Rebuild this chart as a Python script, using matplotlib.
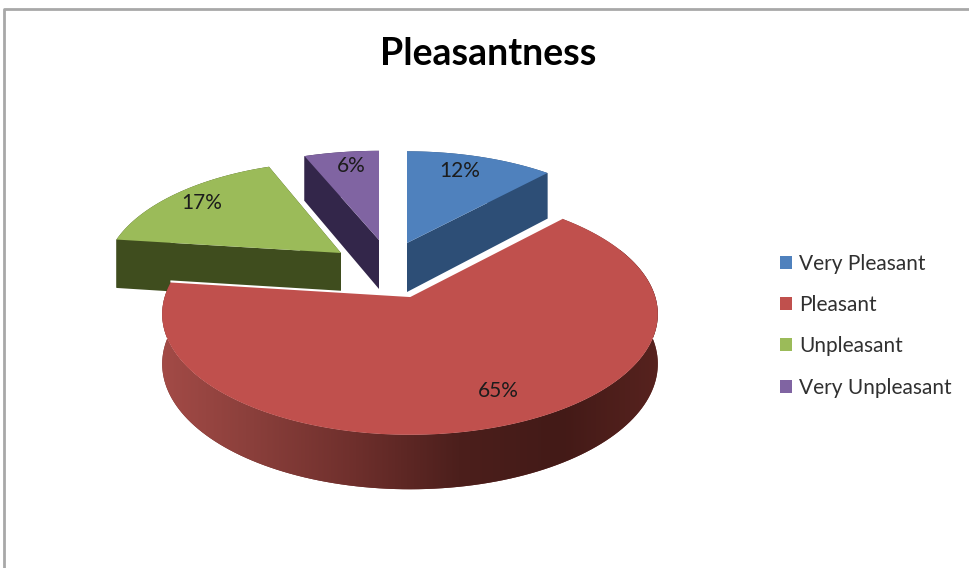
import matplotlib
matplotlib.use("Agg")
import matplotlib.pyplot as plt
from matplotlib.colors import LinearSegmentedColormap
from matplotlib.patches import Patch, Polygon
import numpy as np

labels = ["Very Pleasant", "Pleasant", "Unpleasant", "Very Unpleasant"]
values = [12, 65, 17, 6]
top_colors = ["#4f81bd", "#c0504d", "#9bbb59", "#8064a2"]
wall_colors = ["#2d4e76", "#6e2f2c", "#3f4d1e", "#33264a"]

# where each slice ended up after the explode, in pixels
centers = [(407, 243), (410, 296), (341, 253), (379, 240)]
radii = [235, 245, 232, 240]
squash = [110, 118, 110, 107]
persp = [0.2, 0.15, 0.2, 0.2]
label_pos = [(460, 171), (498, 391), (202, 203), (351, 166)]

depth = 49


def project(i, t, down=False):
    # t is clockwise from 12 o'clock, far side of the pie is drawn smaller
    x = np.sin(t)
    y = np.cos(t)
    s = 1 + persp[i] * y
    d = depth / (1 + 0.1 * y) if down else 0
    return np.column_stack([centers[i][0] + radii[i] * x / s,
                            centers[i][1] - squash[i] * y / s + d])


fig = plt.figure(figsize=(9.69, 5.68), dpi=100)
ax = fig.add_axes([0, 0, 1, 1])
ax.set_xlim(0, 969)
ax.set_ylim(568, 0)
ax.axis("off")

# chart frame
ax.plot([4.5, 4.5, 969], [568, 8.5, 8.5], color="#a8a8a8", lw=2, zorder=1)

cum = np.cumsum([0] + values) / sum(values) * 2 * np.pi
red_cmap = LinearSegmentedColormap.from_list(
    "red_wall", ["#a64c48", "#8a3f3b", "#6e2f2c", "#4c1f1c", "#431a17", "#58231f"])

# red goes last, it sits in front of the other three
for i in [0, 3, 2, 1]:
    t = np.linspace(cum[i], cum[i + 1], 150)
    apex = np.array(centers[i], dtype=float)
    top_arc = project(i, t)
    low_arc = project(i, t, down=True)
    apex_low = apex + [0, depth]

    for edge, edge_low in [(top_arc[0], low_arc[0]), (top_arc[-1], low_arc[-1])]:
        ax.add_patch(Polygon([apex, edge, edge_low, apex_low], fc=wall_colors[i],
                             ec="none", zorder=2))

    wall = Polygon(np.vstack([top_arc, low_arc[::-1]]), fc=wall_colors[i], ec="none", zorder=2)
    ax.add_patch(wall)
    if i == 1:
        grad = np.linspace(0, 1, 256).reshape(1, -1)
        im = ax.imshow(grad, cmap=red_cmap, extent=[150, 665, 500, 250], aspect="auto", zorder=2)
        im.set_clip_path(wall)
        ax.set_xlim(0, 969)
        ax.set_ylim(568, 0)

    ax.add_patch(Polygon(np.vstack([apex, top_arc]), fc=top_colors[i], ec="none", zorder=3))
    if i == 1:
        # white rim along the cut edges of the big slice
        ax.plot([top_arc[0][0], apex[0], top_arc[-1][0]],
                [top_arc[0][1], apex[1], top_arc[-1][1]], color="white", lw=1.5, zorder=3)
    ax.text(label_pos[i][0], label_pos[i][1], f"{values[i]}%", ha="center", va="center",
            fontsize=15, family="Lato", color="#1c1c1c", zorder=4)

ax.text(488, 54, "Pleasantness", ha="center", va="center", fontsize=27,
        fontweight="bold", family="Lato", color="black")

handles = [Patch(fc=col, ec="none") for col in top_colors]
ax.legend(handles, labels, loc="upper left", bbox_to_anchor=(761 / 969, 1 - 235 / 568),
          frameon=False, labelspacing=1.02, handlelength=0.58, handleheight=0.58,
          handletextpad=0.35, labelcolor="#303030", prop={"family": "Lato", "size": 15})

fig.savefig("out.png", dpi=100)
